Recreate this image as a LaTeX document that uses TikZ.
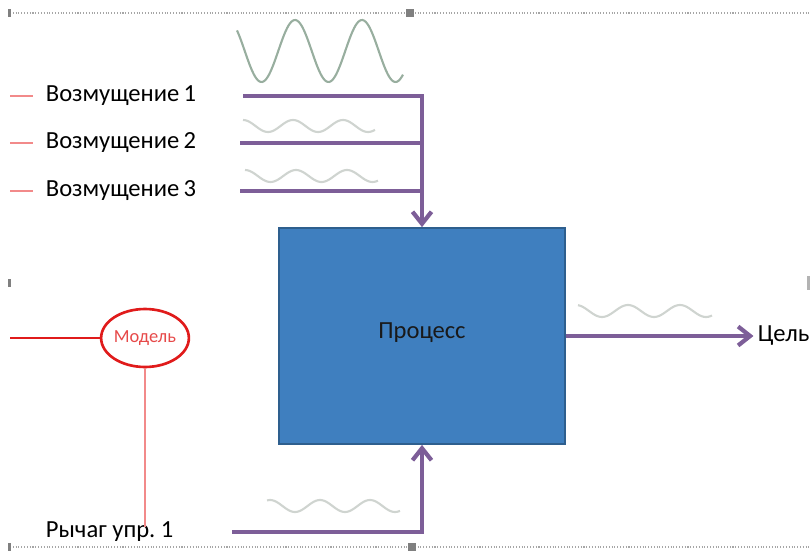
\documentclass[tikz,border=0pt]{standalone}
\usepackage{fontspec}
\setmainfont{Carlito}
\frenchspacing
\usetikzlibrary{arrows.meta, positioning, shapes.geometric}
\definecolor{cpurple}{HTML}{7D5E98}
\definecolor{cblue}{HTML}{3F7FBF}
\definecolor{cnavy}{HTML}{2E5F8E}
\definecolor{cred}{HTML}{E01B1B}
\definecolor{cpink}{HTML}{F28A8A}
\definecolor{cwave}{HTML}{98AE9F}
\definecolor{cfaint}{HTML}{CFD4D0}
\definecolor{cframe}{HTML}{808080}
\tikzset{
  every picture/.style={line width=1pt},
  tag/.style={font=\fontsize{14}{16}\selectfont, anchor=west, inner sep=0pt, text=black},
  process/.style={draw=cnavy, fill=cblue, line width=1pt, minimum width=5.72cm, minimum height=4.32cm, font=\fontsize{14}{16}\selectfont, text=black!90},
  model/.style={ellipse, draw=cred, line width=1.5pt, minimum width=1.44cm, minimum height=1.16cm, inner sep=0pt, text=cred!80, font=\fontsize{10.5}{12}\selectfont},
  flow/.style={draw=cpurple, line width=2.4pt},
  arrow/.style={flow, -{Straight Barb[length=2.4mm, width=3.8mm]}},
  wave/.style={draw=cwave, line width=1.2pt},
  ripple/.style={draw=cfaint, line width=1.2pt},
  redline/.style={draw=cred, line width=1pt},
  pinkline/.style={draw=cpink, line width=1pt},
  frame/.style={draw=cframe!70, densely dotted, line width=0.6pt},
  handle/.style={fill=cframe, draw=none},
}

\begin{document}
\begin{tikzpicture}[x=0.02cm, y=-0.02cm]
  \useasboundingbox (0,0) rectangle (811,551);
  % selection frame
  \draw[frame] (10,13) -- (811,13);
  \draw[frame] (10,547) -- (811,547);
  \fill[handle] (406,9) rectangle (414,17);
  \fill[handle] (408,543) rectangle (416,551);
  \foreach \y in {13,283,547} \fill[handle] (8,\y-4) rectangle (11,\y+4);
  \fill[handle, fill=cframe!60] (807,276) rectangle (810,290);
  % waves
  \draw[wave] plot[domain=237:403, samples=120] (\x, {51 - 31*cos((\x-228)/67*360)});
  \draw[ripple] plot[domain=243:375, samples=80] (\x, {126 - 6*cos((\x-243)/50*360)});
  \draw[ripple] plot[domain=245:378, samples=80] (\x, {176 - 6*cos((\x-245)/51*360)});
  \draw[ripple] plot[domain=267:400, samples=80] (\x, {506 - 6*cos((\x-270)/50*360)});
  \draw[ripple] plot[domain=578:712, samples=80] (\x, {311 - 6*cos((\x-576)/52*360)});
  % process
  \node[process] (box) at (422,336) {\raisebox{6pt}{Процесс}};
  % disturbances
  \foreach \i/\y in {1/96, 2/143, 3/191} {
    \draw[pinkline] (10,\y) -- (33,\y);
    \node[tag] (dist\i) at (45,\y) {Возмущение\,\i};
  }
  \coordinate (in1) at (243,96);
  \coordinate (in2) at (240,143);
  \coordinate (in3) at (240,191);
  \draw[arrow] (in1) -| (box.north);
  \draw[flow] (in2) -- (in2 -| box.north);
  \draw[flow] (in3) -- (in3 -| box.north);
  % goal
  \node[tag] (goal) at (757,336) {Цель};
  \draw[arrow, shorten >=2pt] (box.east) -- (goal.west);
  % lever
  \node[tag] (lever) at (45,532) {Рычаг упр. 1};
  \coordinate (push) at (232,532);
  \draw[arrow] (push) -| (box.south);
  % model
  \node[model] (model) at (145,338) {Модель};
  \coordinate (mleft) at (10,338);
  \coordinate (mfoot) at (145,527);
  \draw[redline] (mleft) -- (model.west);
  \draw[pinkline] (model.south) -- (mfoot);
\end{tikzpicture}
\end{document}
